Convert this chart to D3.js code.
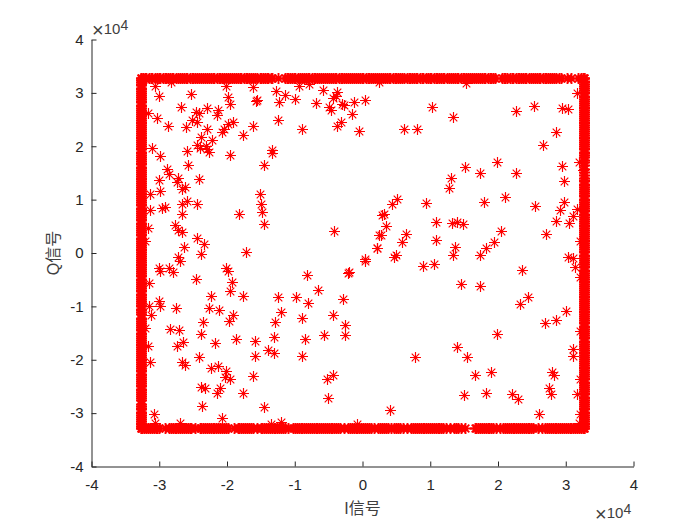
<!DOCTYPE html>
<html><head><meta charset="utf-8">
<script src="https://cdn.jsdelivr.net/npm/d3@7"></script>
<style>html,body{margin:0;padding:0;background:#fff;overflow:hidden}svg{display:block}
text{font-family:"Liberation Sans",Arial,sans-serif;fill:#262626}</style></head><body>
<svg id="c" width="700" height="525"></svg>
<script>
const xTicks=[-4,-3,-2,-1,0,1,2,3,4];
const yTicks=[-4,-3,-2,-1,0,1,2,3,4];
const xLabel="I信号", yLabel="Q信号";
const satHigh=3.2767, satLow=-3.2767;
const topEdgeI=[-3.27,-3.24,-3.21,-3.19,-3.15,-3.12,-3.1,-3.07,-3.04,-3.01,-2.99,-2.95,-2.92,-2.9,-2.87,-2.84,-2.81,-2.79,-2.75,-2.72,-2.7,-2.67,-2.64,-2.61,-2.59,-2.55,-2.52,-2.5,-2.47,-2.44,-2.41,-2.39,-2.35,-2.32,-2.3,-2.27,-2.24,-2.21,-2.19,-2.15,-2.12,-2.1,-2.07,-2.04,-2.01,-1.99,-1.95,-1.92,-1.9,-1.87,-1.84,-1.81,-1.79,-1.75,-1.72,-1.7,-1.67,-1.64,-1.61,-1.59,-1.55,-1.52,-1.5,-1.47,-1.44,-1.41,-1.39,-1.35,-1.33,-1.24,-1.15,-1.12,-1.1,-1.07,-1.04,-1.01,-0.99,-0.95,-0.92,-0.9,-0.87,-0.84,-0.81,-0.79,-0.75,-0.72,-0.7,-0.67,-0.64,-0.61,-0.59,-0.55,-0.52,-0.5,-0.47,-0.44,-0.41,-0.39,-0.35,-0.32,-0.3,-0.27,-0.24,-0.21,-0.19,-0.15,-0.12,-0.1,-0.07,-0.04,-0.01,0.01,0.05,0.08,0.1,0.13,0.16,0.19,0.21,0.25,0.28,0.3,0.33,0.36,0.39,0.41,0.45,0.48,0.5,0.53,0.56,0.59,0.61,0.65,0.68,0.7,0.73,0.76,0.79,0.81,0.85,0.88,0.9,0.93,0.96,0.99,1.01,1.05,1.08,1.1,1.13,1.16,1.19,1.21,1.25,1.28,1.3,1.33,1.36,1.39,1.41,1.45,1.48,1.5,1.53,1.56,1.59,1.61,1.65,1.68,1.7,1.73,1.76,1.79,1.81,1.85,1.88,1.9,1.93,1.95,2.06,2.09,2.11,2.14,2.17,2.2,2.22,2.26,2.29,2.31,2.34,2.37,2.4,2.42,2.46,2.49,2.51,2.54,2.57,2.6,2.62,2.66,2.69,2.71,2.74,2.77,2.8,2.82,2.86,2.9,2.93,3.02,3.08,3.18,3.22,3.25,3.27];
const bottomEdgeI=[-3.27,-3.25,-3.22,-3.19,-3.16,-3.14,-3.11,-3.08,-3.05,-3.03,-3.0,-2.92,-2.86,-2.83,-2.8,-2.77,-2.75,-2.72,-2.69,-2.66,-2.64,-2.61,-2.58,-2.55,-2.53,-2.47,-2.4,-2.38,-2.35,-2.32,-2.3,-2.27,-2.24,-2.21,-2.19,-2.16,-2.13,-2.1,-2.08,-2.05,-2.02,-1.99,-1.9,-1.84,-1.82,-1.79,-1.76,-1.73,-1.71,-1.68,-1.65,-1.62,-1.56,-1.5,-1.48,-1.45,-1.42,-1.4,-1.37,-1.34,-1.31,-1.29,-1.26,-1.23,-1.2,-1.18,-1.15,-1.1,-1.02,-1.0,-0.97,-0.94,-0.91,-0.89,-0.86,-0.83,-0.8,-0.78,-0.75,-0.72,-0.69,-0.67,-0.64,-0.61,-0.58,-0.56,-0.53,-0.5,-0.47,-0.45,-0.42,-0.39,-0.36,-0.33,-0.27,-0.21,-0.19,-0.16,-0.13,-0.1,-0.08,-0.05,-0.02,0.01,0.03,0.06,0.09,0.12,0.17,0.23,0.26,0.29,0.32,0.34,0.37,0.42,0.47,0.5,0.53,0.56,0.6,0.66,0.72,0.75,0.78,0.8,0.83,0.86,0.89,0.91,0.94,0.97,1.0,1.02,1.05,1.08,1.11,1.13,1.16,1.19,1.23,1.29,1.35,1.38,1.41,1.46,1.51,1.66,1.68,1.71,1.74,1.76,1.79,1.82,1.85,1.87,1.9,1.93,1.97,2.03,2.08,2.11,2.13,2.16,2.19,2.22,2.24,2.27,2.3,2.33,2.35,2.38,2.41,2.44,2.46,2.49,2.52,2.59,2.65,2.7,2.73,2.75,2.78,2.81,2.84,2.86,2.89,2.92,2.95,2.97,3.0,3.03,3.06,3.08,3.11,3.14,3.17,3.19,3.22,3.25,3.27];
const leftEdgeQ=[3.27,3.24,3.21,3.17,3.14,3.1,3.07,3.03,3.0,2.96,2.93,2.89,2.85,2.82,2.78,2.75,2.71,2.68,2.64,2.6,2.57,2.53,2.5,2.46,2.43,2.39,2.36,2.32,2.29,2.25,2.22,2.18,2.15,2.11,2.08,2.04,2.01,1.97,1.94,1.9,1.87,1.83,1.8,1.76,1.73,1.69,1.66,1.62,1.59,1.55,1.52,1.48,1.45,1.41,1.38,1.34,1.31,1.27,1.24,1.2,1.17,1.13,1.1,1.06,1.03,0.99,0.96,0.92,0.89,0.85,0.82,0.78,0.75,0.71,0.68,0.64,0.61,0.57,0.54,0.5,0.47,0.43,0.4,0.36,0.33,0.29,0.26,0.22,0.19,0.15,0.12,0.08,0.05,0.01,-0.02,-0.06,-0.09,-0.13,-0.16,-0.2,-0.23,-0.27,-0.3,-0.34,-0.37,-0.41,-0.44,-0.48,-0.51,-0.55,-0.58,-0.62,-0.65,-0.69,-0.72,-0.76,-0.79,-0.83,-0.86,-0.9,-0.93,-0.97,-1.0,-1.04,-1.07,-1.11,-1.14,-1.21,-1.24,-1.28,-1.31,-1.35,-1.38,-1.42,-1.45,-1.49,-1.52,-1.56,-1.59,-1.63,-1.66,-1.7,-1.73,-1.77,-1.8,-1.84,-1.87,-1.91,-1.94,-1.98,-2.01,-2.05,-2.08,-2.12,-2.15,-2.19,-2.22,-2.26,-2.29,-2.33,-2.36,-2.4,-2.43,-2.47,-2.5,-2.54,-2.57,-2.61,-2.64,-2.68,-2.71,-2.75,-2.83,-2.86,-2.9,-2.93,-2.97,-3.0,-3.04,-3.07,-3.11,-3.14,-3.18,-3.21,-3.25,-3.27];
const rightEdgeQ=[3.27,3.23,3.2,3.16,3.13,3.09,3.06,3.02,2.99,2.95,2.92,2.88,2.85,2.81,2.78,2.74,2.71,2.67,2.64,2.6,2.57,2.53,2.5,2.46,2.43,2.39,2.36,2.32,2.29,2.25,2.22,2.18,2.15,2.11,2.08,2.04,2.01,1.97,1.94,1.9,1.87,1.83,1.8,1.75,1.7,1.64,1.58,1.52,1.46,1.41,1.37,1.34,1.3,1.27,1.23,1.2,1.16,1.13,1.09,1.06,1.02,0.99,0.95,0.92,0.88,0.85,0.81,0.78,0.74,0.71,0.67,0.64,0.6,0.57,0.53,0.5,0.46,0.43,0.39,0.36,0.32,0.29,0.25,0.22,0.18,0.15,0.11,0.08,0.04,0.01,-0.03,-0.06,-0.1,-0.13,-0.17,-0.2,-0.24,-0.27,-0.31,-0.34,-0.38,-0.41,-0.45,-0.48,-0.52,-0.55,-0.59,-0.62,-0.66,-0.69,-0.73,-0.76,-0.8,-0.83,-0.87,-0.9,-0.94,-0.97,-1.01,-1.04,-1.08,-1.11,-1.15,-1.18,-1.22,-1.25,-1.29,-1.32,-1.36,-1.39,-1.43,-1.46,-1.5,-1.53,-1.57,-1.6,-1.64,-1.67,-1.71,-1.74,-1.78,-1.81,-1.85,-1.88,-1.92,-1.95,-1.99,-2.02,-2.06,-2.09,-2.13,-2.16,-2.2,-2.23,-2.27,-2.3,-2.34,-2.37,-2.41,-2.44,-2.48,-2.51,-2.55,-2.58,-2.62,-2.65,-2.69,-2.72,-2.76,-2.79,-2.83,-2.86,-2.9,-2.93,-2.97,-3.0,-3.04,-3.07,-3.11,-3.14,-3.18,-3.21,-3.25,-3.27];
const innerI=[-3.06,-2.83,-3.0,-2.53,-3.17,-2.68,-3.03,-2.87,-2.61,-2.46,-2.41,-2.29,-2.13,-2.15,-2.51,-2.44,-2.29,-2.38,-2.22,-2.44,-2.4,-2.31,-2.29,-2.26,-2.59,-3.11,-2.99,-2.07,-2.05,-1.99,-1.91,-1.77,-1.62,-1.96,-1.34,-1.33,-1.45,-1.52,-1.5,-1.48,-1.45,-1.83,-2.57,-2.89,-2.85,-2.73,-2.74,-3.01,-2.99,-2.42,-2.62,-2.66,-3.14,-2.59,-2.66,-2.44,-2.91,-2.96,-3.13,-2.67,-3.17,-2.77,-2.72,-2.66,-3.21,-2.44,-2.34,-2.64,-2.73,-2.38,-1.72,-0.42,0.04,0.21,0.25,0.285,
-2.02,-1.99,-1.96,-1.62,-1.27,-1.15,-1.55,-1.57,-1.23,-0.99,-0.94,-0.79,-0.58,-0.69,-1.25,-0.89,-0.38,-0.39,-0.43,-0.5,-0.47,-0.3,-0.28,-0.12,0.03,-0.15,-0.31,-0.38,-0.05,
1.03,1.34,0.61,0.81,2.27,2.53,2.94,3.04,3.17,2.85,2.66,1.53,0.25,1.99,1.52,1.74,2.27,2.95,3.2,3.25,2.98,1.3,1.28,0.51,0.43,0.94,1.8,2.1,2.55,2.98,2.92,3.16,3.1,2.86,3.05,0.31,0.34,0.28,1.09,1.32,1.39,1.49,2.04,2.71,1.08,0.64,0.59,0.22,1.94,1.37,1.82,1.34,1.74,3.21,0.5,0.47,3.04,3.11,
-3.01,-2.85,-2.99,-2.8,-2.7,-2.02,-1.99,-2.46,-1.93,-3.15,-1.96,-2.24,-1.77,-3.01,-2.99,-3.15,-2.75,-2.26,-2.12,-3.12,-1.91,-1.97,-2.36,-1.25,-0.98,-0.81,-0.82,-0.65,-0.29,-0.22,-0.2,0.04,-1.2,-1.29,-0.89,-0.43,-0.26,-0.26,-0.57,-0.85,-1.31,-1.59,-1.87,-2.17,-2.39,-2.84,-2.71,-2.65,-2.74,-3.16,-3.21,-2.41,-1.59,-1.4,-1.31,-0.89,-3.14,-2.67,-2.62,-2.23,-2.14,-2.02,-2.03,-1.96,-1.62,-0.52,-0.44,-0.51,-2.39,-2.32,-2.11,-2.15,-1.77,-2.37,-1.45,-2.07,-3.08,-3.07,-2.7,-1.21,-1.35,-0.08,
2.36,0.89,1.06,1.45,1.73,3.13,3.21,2.44,2.32,3.0,2.85,2.7,1.98,1.4,1.54,0.78,3.1,3.11,1.66,1.9,2.8,2.83,2.76,2.78,3.16,1.5,1.82,2.2,2.3,2.61,0.41,3.21,3.21,3.19,3.21];
const innerQ=[3.12,3.2,2.94,2.98,2.63,2.73,2.53,2.38,2.36,2.65,2.63,2.71,2.68,2.59,2.5,2.46,2.33,2.18,2.12,2.02,1.97,2.01,1.95,1.9,1.91,1.97,1.81,2.26,2.33,2.41,2.45,2.21,2.38,1.83,1.93,1.87,1.64,1.11,0.92,0.76,0.55,0.73,1.64,1.58,1.48,1.4,1.33,1.36,1.16,1.38,1.24,1.19,1.1,0.98,0.92,0.91,0.87,0.85,0.81,0.73,0.47,0.53,0.43,0.4,0.23,0.28,0.17,0.11,-0.07,-0.02,0.02,0.42,-0.11,0.1,0.33,0.72,
3.12,2.92,2.8,3.11,3.03,2.96,2.86,2.85,2.83,2.88,3.12,3.17,3.06,2.81,2.5,2.33,3.01,2.94,2.9,2.73,2.68,2.8,2.78,2.83,2.86,2.6,2.46,2.38,2.29,
2.74,2.55,2.33,2.33,2.66,2.76,2.71,2.7,2.99,2.26,2.02,3.18,3.2,1.71,1.61,1.5,1.5,1.63,1.7,1.55,1.35,1.4,1.22,1.02,0.92,0.94,0.96,1.05,0.88,0.96,0.81,0.82,0.7,0.6,0.56,0.73,0.5,0.34,0.58,0.57,0.58,0.54,0.42,0.35,0.24,0.35,0.2,0.09,0.2,0.12,0.1,-0.03,-0.03,0.23,-0.03,-0.07,-0.08,-0.09,
-0.28,-0.28,-0.34,-0.36,-0.15,-0.28,-0.34,-0.48,-0.54,-0.57,-0.72,-0.8,-0.8,-0.9,-1.0,-1.0,-1.03,-1.03,-1.07,-1.17,-1.17,-1.28,-1.3,-0.82,-0.83,-0.93,-0.42,-0.69,-0.86,-0.38,-0.35,-0.15,-1.1,-1.29,-1.21,-1.17,-1.34,-1.53,-1.53,-1.62,-1.57,-1.64,-1.61,-1.68,-1.51,-1.43,-1.45,-1.66,-1.75,-1.75,-1.4,-1.95,-1.93,-1.81,-1.87,-1.93,-2.04,-2.04,-2.1,-2.15,-2.11,-2.21,-2.33,-2.37,-2.3,-2.36,-2.28,-2.71,-2.51,-2.52,-2.52,-2.63,-2.62,-2.86,-2.88,-3.09,-3.01,-3.19,-3.19,-3.16,-3.21,-3.2,
-0.32,-0.24,-0.2,-0.58,-0.62,-0.27,-0.45,-0.82,-0.95,-1.08,-1.25,-1.31,-1.52,-1.76,-1.95,-1.95,-1.8,-1.93,-2.29,-2.23,-2.23,-2.28,-2.53,-2.65,-2.65,-2.66,-2.62,-2.64,-2.73,-3.01,-2.94,-2.36,-3.02,-3.18,-1.46];

const W=700,H=525,L=91.5,R=633.5,T=39.5,B=466.5;
const svg=d3.select("#c");
const x=d3.scaleLinear().domain([-4,4]).range([L,R]);
const y=d3.scaleLinear().domain([-4,4]).range([B,T]);
const ink="#262626";
const ax=svg.append("g").attr("transform",`translate(0,${B})`)
  .call(d3.axisBottom(x).tickValues(xTicks).tickSizeInner(-5).tickSizeOuter(0).tickPadding(13).tickFormat(d=>String(d)));
const ay=svg.append("g").attr("transform",`translate(${L},0)`)
  .call(d3.axisLeft(y).tickValues(yTicks).tickSizeInner(-5).tickSizeOuter(0).tickPadding(8).tickFormat(d=>String(d)));
[ax,ay].forEach(g=>{g.selectAll("path,line").attr("stroke",ink).attr("stroke-width",1);
  g.selectAll("text").attr("font-size",15).attr("fill",ink).attr("font-family",'"Liberation Sans",Arial,sans-serif');});
ax.selectAll("text").attr("dy","0.71em");

const starSym={draw(c){const a=5.5,b=3.8;
  c.moveTo(-a,0);c.lineTo(a,0);c.moveTo(0,-a);c.lineTo(0,a);
  c.moveTo(-b,-b);c.lineTo(b,b);c.moveTo(-b,b);c.lineTo(b,-b);}};
const star=d3.symbol().type(starSym)();
const edgePts=[];
topEdgeI.forEach(i=>edgePts.push([i,satHigh]));
bottomEdgeI.forEach(i=>edgePts.push([i,satLow]));
leftEdgeQ.forEach(q=>edgePts.push([satLow,q]));
rightEdgeQ.forEach(q=>edgePts.push([satHigh,q]));
const innerPts=innerI.map((i,k)=>[i,innerQ[k]]);
function drawStars(data,sw){
  svg.append("g").selectAll("path").data(data).join("path")
    .attr("d",star).attr("fill","none").attr("stroke","#f00").attr("stroke-width",sw)
    .attr("transform",d=>`translate(${Math.round(x(d[0]))+.5},${Math.round(y(d[1]))+.5})`);
}
drawStars(innerPts,1.15);
drawStars(edgePts,1.9);

const cjk='"Liberation Sans","Noto Sans CJK SC",sans-serif';
svg.append("text").attr("x",362.5).attr("y",514).attr("text-anchor","middle").attr("font-size",16)
  .style("font-family",cjk).style("fill","#404040").text(xLabel);
svg.append("text").attr("transform",`translate(59,${(T+B)/2}) rotate(-90)`).attr("text-anchor","middle").attr("font-size",16)
  .style("font-family",cjk).style("fill","#404040").text(yLabel);
function exp(xp,yp){const t=svg.append("text").attr("x",xp).attr("y",yp).attr("font-size",15).style("fill","#404040");
  t.append("tspan").attr("font-size",20).attr("dy",3).text("×");
  t.append("tspan").attr("dy",-3).text("10");
  t.append("tspan").attr("dy",-4).attr("font-size",14).text("4");}
exp(92,34);exp(595,517.5);
</script></body></html>
